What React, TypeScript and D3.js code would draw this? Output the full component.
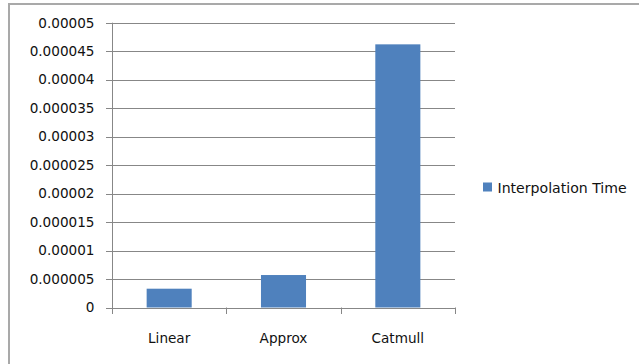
import React from "react";
import * as d3 from "d3";

const categories = ["Linear", "Approx", "Catmull"];
const interpolationTime = [0.0000033, 0.0000057, 0.0000462];
const yTicks = [0, 0.000005, 0.00001, 0.000015, 0.00002, 0.000025, 0.00003, 0.000035, 0.00004, 0.000045, 0.00005];
const yTickLabels = ["0", "0.000005", "0.00001", "0.000015", "0.00002", "0.000025", "0.00003", "0.000035", "0.00004", "0.000045", "0.00005"];
const seriesName = "Interpolation Time";

const W = 639;
const H = 364;
const plot = { left: 112, right: 455, top: 22.7, bottom: 307.5 };
const FONT = "'DejaVu Sans', sans-serif";
const GRID = "#878787";
const BAR = "#4F81BD";

export default function App() {
  const x = d3
    .scaleBand<string>()
    .domain(categories)
    .range([plot.left, plot.right])
    .paddingInner(0.606)
    .paddingOuter(0.303);
  const y = d3.scaleLinear().domain([0, 0.00005]).range([plot.bottom, plot.top]);
  const step = x.step();
  const catEdges = d3.range(categories.length + 1).map((i) => plot.left + i * step);

  return (
    <svg
      width={W}
      height={H}
      viewBox={`0 0 ${W} ${H}`}
      style={{ position: "absolute", left: 0, top: 0, background: "#fff" }}
    >
      {/* chart frame */}
      <path d={`M9,${H} V4 H${W}`} fill="none" stroke="#a9a9a9" strokeWidth={2} />

      {/* horizontal gridlines with left ticks */}
      {yTicks.map((t, i) => (
        <g key={i}>
          <line
            x1={plot.left - 6}
            x2={plot.right}
            y1={Math.round(y(t)) + 0.5}
            y2={Math.round(y(t)) + 0.5}
            stroke={GRID}
            strokeWidth={1}
          />
          <text
            x={94.5}
            y={y(t) + 4.8}
            textAnchor="end"
            fontFamily={FONT}
            fontSize={13.6}
            fill="#111"
          >
            {yTickLabels[i]}
          </text>
        </g>
      ))}

      {/* value axis */}
      <line x1={plot.left + 0.5} x2={plot.left + 0.5} y1={plot.top} y2={plot.bottom + 0.5} stroke={GRID} />

      {/* category tick marks */}
      {catEdges.map((cx, i) => (
        <line
          key={i}
          x1={Math.round(cx) + 0.5}
          x2={Math.round(cx) + 0.5}
          y1={plot.bottom}
          y2={plot.bottom + 6.5}
          stroke={GRID}
        />
      ))}

      {/* bars */}
      {categories.map((c, i) => (
        <rect
          key={c}
          x={x(c)}
          y={y(interpolationTime[i])}
          width={x.bandwidth()}
          height={y(0) - y(interpolationTime[i])}
          fill={BAR}
        />
      ))}

      {/* category labels */}
      {categories.map((c) => (
        <text
          key={c}
          x={(x(c) as number) + x.bandwidth() / 2}
          y={343}
          textAnchor="middle"
          fontFamily={FONT}
          fontSize={13.6}
          fill="#111"
        >
          {c}
        </text>
      ))}

      {/* legend */}
      <rect x={483} y={182.5} width={9} height={9} fill={BAR} />
      <text x={497.5} y={192.5} fontFamily={FONT} fontSize={14.1} fill="#111">
        {seriesName}
      </text>
    </svg>
  );
}
